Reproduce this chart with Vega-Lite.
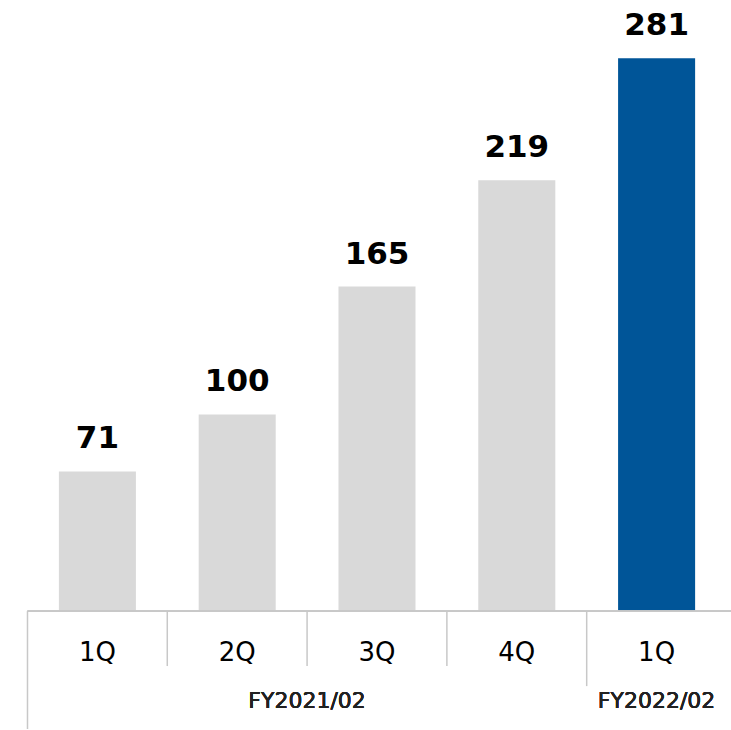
{
  "$schema": "https://vega.github.io/schema/vega-lite/v6.json",
  "width": 731,
  "height": 730,
  "padding": 0,
  "autosize": {"type": "fit", "contains": "padding"},
  "background": "white",
  "config": {"view": {"stroke": null}},
  "data": {
    "values": [
      {"id": "FY2021/02 1Q", "quarter": "1Q", "fy": "FY2021/02", "value": 71, "status": "past"},
      {"id": "FY2021/02 2Q", "quarter": "2Q", "fy": "FY2021/02", "value": 100, "status": "past"},
      {"id": "FY2021/02 3Q", "quarter": "3Q", "fy": "FY2021/02", "value": 165, "status": "past"},
      {"id": "FY2021/02 4Q", "quarter": "4Q", "fy": "FY2021/02", "value": 219, "status": "past"},
      {"id": "FY2022/02 1Q", "quarter": "1Q", "fy": "FY2022/02", "value": 281, "status": "current"}
    ]
  },
  "layer": [
    {
      "mark": {"type": "bar"},
      "encoding": {
        "x": {"field": "id", "type": "nominal", "sort": null, "axis": null,
              "scale": {"range": [27.5, 726.5], "paddingInner": 0.449, "paddingOuter": 0.2245}},
        "y": {"field": "value", "type": "quantitative", "axis": null,
              "scale": {"domain": [-59.9, 310.66], "nice": false, "zero": false}},
        "y2": {"datum": 0},
        "color": {"field": "status", "type": "nominal", "legend": null,
                  "scale": {"domain": ["past", "current"], "range": ["#d9d9d9", "#005598"]}}
      }
    },
    {
      "mark": {"type": "text", "font": "DejaVu Sans", "fontWeight": "bold", "fontSize": 31, "baseline": "alphabetic", "align": "center", "dy": -23, "color": "#000000"},
      "encoding": {
        "x": {"field": "id", "type": "nominal", "sort": null},
        "y": {"field": "value", "type": "quantitative"},
        "text": {"field": "value", "type": "quantitative"}
      }
    },
    {
      "mark": {"type": "rule", "color": "#c8c8c8", "strokeWidth": 1.5, "xOffset": -31.4, "x2Offset": 40},
      "encoding": {
        "x": {"datum": "FY2021/02 1Q", "type": "nominal", "bandPosition": 0},
        "x2": {"datum": "FY2022/02 1Q", "bandPosition": 1},
        "y": {"datum": 0}
      }
    },
    {
      "transform": [{"filter": "datum.id == 'FY2021/02 1Q'"}],
      "mark": {"type": "rule", "color": "#c8c8c8", "strokeWidth": 1.5, "xOffset": -31.4},
      "encoding": {
        "x": {"field": "id", "type": "nominal", "sort": null, "bandPosition": 0},
        "y": {"datum": 0},
        "y2": {"datum": -59.9}
      }
    },
    {
      "transform": [{"filter": "datum.quarter != '1Q'"}],
      "mark": {"type": "rule", "color": "#c8c8c8", "strokeWidth": 1.5, "xOffset": -31.4},
      "encoding": {
        "x": {"field": "id", "type": "nominal", "sort": null, "bandPosition": 0},
        "y": {"datum": 0},
        "y2": {"datum": -27.9}
      }
    },
    {
      "transform": [{"filter": "datum.id == 'FY2022/02 1Q'"}],
      "mark": {"type": "rule", "color": "#c8c8c8", "strokeWidth": 1.5, "xOffset": -31.4},
      "encoding": {
        "x": {"field": "id", "type": "nominal", "sort": null, "bandPosition": 0},
        "y": {"datum": 0},
        "y2": {"datum": -38.1}
      }
    },
    {
      "mark": {"type": "text", "font": "DejaVu Sans", "fontWeight": "normal", "fontSize": 26, "baseline": "alphabetic", "align": "center", "color": "#000000"},
      "encoding": {
        "x": {"field": "id", "type": "nominal", "sort": null},
        "y": {"datum": -25.4},
        "text": {"field": "quarter", "type": "nominal"}
      }
    },
    {
      "mark": {"type": "text", "font": "DejaVu Sans", "fontWeight": "normal", "fontSize": 22, "baseline": "alphabetic", "align": "center", "color": "#222222", "xOffset": -31.4},
      "encoding": {
        "x": {"datum": "FY2021/02 3Q", "type": "nominal", "bandPosition": 0},
        "y": {"datum": -49.2},
        "text": {"value": "FY2021/02"}
      }
    },
    {
      "mark": {"type": "text", "font": "DejaVu Sans", "fontWeight": "normal", "fontSize": 22, "baseline": "alphabetic", "align": "center", "color": "#222222"},
      "encoding": {
        "x": {"datum": "FY2022/02 1Q", "type": "nominal", "bandPosition": 0.5},
        "y": {"datum": -49.2},
        "text": {"value": "FY2022/02"}
      }
    }
  ]
}
